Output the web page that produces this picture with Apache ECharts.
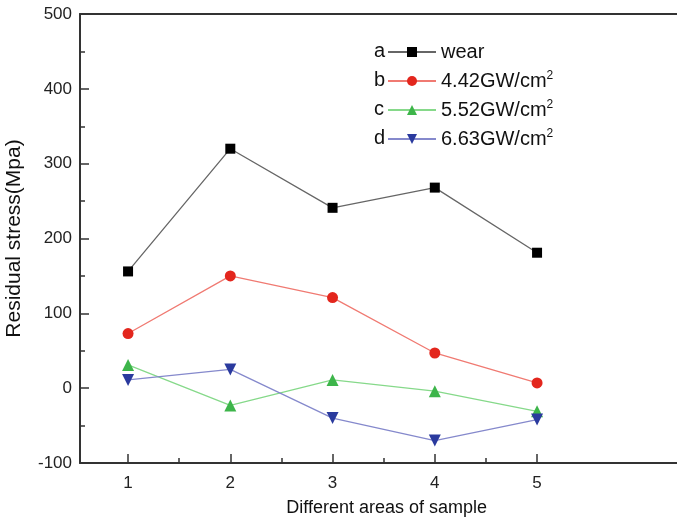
<!DOCTYPE html>
<html>
<head>
<meta charset="utf-8">
<script src="https://cdn.jsdelivr.net/npm/echarts@6/dist/echarts.min.js"></script>
<style>html,body{margin:0;padding:0;background:#fff;}#c{width:677px;height:521px;}</style>
</head>
<body>
<div id="c"></div>
<script>
var categories = [1, 2, 3, 4, 5];
var seriesNames = ['wear', '4.42GW/cm²', '5.52GW/cm²', '6.63GW/cm²'];
var seriesLetters = ['a', 'b', 'c', 'd'];
var wear = [156, 320, 241, 268, 181];
var p442 = [73, 150, 121, 47, 7];
var p552 = [31, -23, 11, -4, -31];
var p663 = [11, 25, -40, -70, -42];
var yTicks = [-100, 0, 100, 200, 300, 400, 500];
var xMajorTicks = [1, 2, 3, 4, 5];
var xMinorTicks = [1.5, 2.5, 3.5, 4.5];

var FONT = 'Liberation Sans, Arial, sans-serif';
function pts(vals) { return categories.map(function (c, i) { return [c, vals[i]]; }); }

var styles = [
  { symbol: 'rect', size: 10, rot: 0, mark: '#000000', line: '#666666' },
  { symbol: 'circle', size: 11, rot: 0, mark: '#e3261d', line: '#f07a72' },
  { symbol: 'triangle', size: 12, rot: 0, mark: '#3db54a', line: '#86d98a' },
  { symbol: 'triangle', size: 12, rot: 180, mark: '#2a3a9e', line: '#8589cc' }
];
var dataArr = [wear, p442, p552, p663];

var chart = echarts.init(document.getElementById('c'), null, { renderer: 'canvas' });
var series = dataArr.map(function (d, i) {
  var s = styles[i];
  return {
    name: seriesNames[i], type: 'line', xAxisIndex: 0, yAxisIndex: 0,
    data: pts(d), symbol: s.symbol, symbolSize: s.size, symbolRotate: s.rot,
    itemStyle: { color: s.mark }, lineStyle: { color: s.line, width: 1.3 },
    z: 3 + i, animation: false
  };
});

var graphics = seriesLetters.map(function (l, i) {
  return { type: 'text', left: 374, top: 41 + i * 29,
    style: { text: l, font: '20px ' + FONT, fill: '#111', textVerticalAlign: 'top' } };
});

var XMIN = 0.53, XMAX = 6.53;
chart.setOption({
  animation: false,
  textStyle: { fontFamily: FONT },
  grid: { left: 80, top: 14, width: 613.5, height: 449, show: false, outerBoundsMode: 'none', containLabel: false },
  xAxis: [{
    type: 'value', min: XMIN, max: XMAX, position: 'bottom',
    axisLine: { show: true, onZero: false, lineStyle: { color: '#333', width: 2 } },
    axisTick: { show: true, inside: true, length: 9, customValues: xMajorTicks, lineStyle: { color: '#333', width: 1.5 } },
    axisLabel: { customValues: categories, fontSize: 17, color: '#222', margin: 12, fontFamily: FONT },
    splitLine: { show: false },
    name: 'Different areas of sample', nameLocation: 'middle', nameGap: 36,
    nameTextStyle: { fontSize: 18, color: '#111', fontFamily: FONT }
  }, {
    type: 'value', min: XMIN, max: XMAX, position: 'bottom', gridIndex: 0,
    axisLine: { show: false, onZero: false },
    axisTick: { show: true, inside: true, length: 5, customValues: xMinorTicks, lineStyle: { color: '#333', width: 1.5 } },
    axisLabel: { show: false }, splitLine: { show: false }
  }, {
    type: 'value', min: XMIN, max: XMAX, position: 'top', gridIndex: 0,
    axisLine: { show: true, onZero: false, lineStyle: { color: '#333', width: 2 } },
    axisTick: { show: false }, axisLabel: { show: false }, splitLine: { show: false }
  }],
  yAxis: [{
    type: 'value', min: -100, max: 500, interval: 100,
    axisLine: { show: true, onZero: false, lineStyle: { color: '#333', width: 2 } },
    axisTick: { show: true, inside: true, length: 9, lineStyle: { color: '#333', width: 1.5 } },
    minorTick: { show: true, splitNumber: 2, length: 5, lineStyle: { color: '#333', width: 1.5 } },
    axisLabel: { fontSize: 17, color: '#222', margin: 8, fontFamily: FONT },
    splitLine: { show: false },
    name: 'Residual stress(Mpa)', nameLocation: 'middle', nameGap: 55,
    nameTextStyle: { fontSize: 21, color: '#111', fontFamily: FONT }
  }],
  legend: {
    orient: 'vertical', left: 382, top: 36, itemWidth: 48, itemHeight: 12.5, itemGap: 7,
    formatter: function (n) { return n.replace('²', '{sup|2}'); },
    textStyle: { fontSize: 20, color: '#111', lineHeight: 22, fontFamily: FONT,
      rich: { sup: { fontSize: 12, lineHeight: 12, verticalAlign: 'top', color: '#111', fontFamily: FONT } } },
    data: seriesNames
  },
  graphic: graphics,
  series: series
});
</script>
</body>
</html>
